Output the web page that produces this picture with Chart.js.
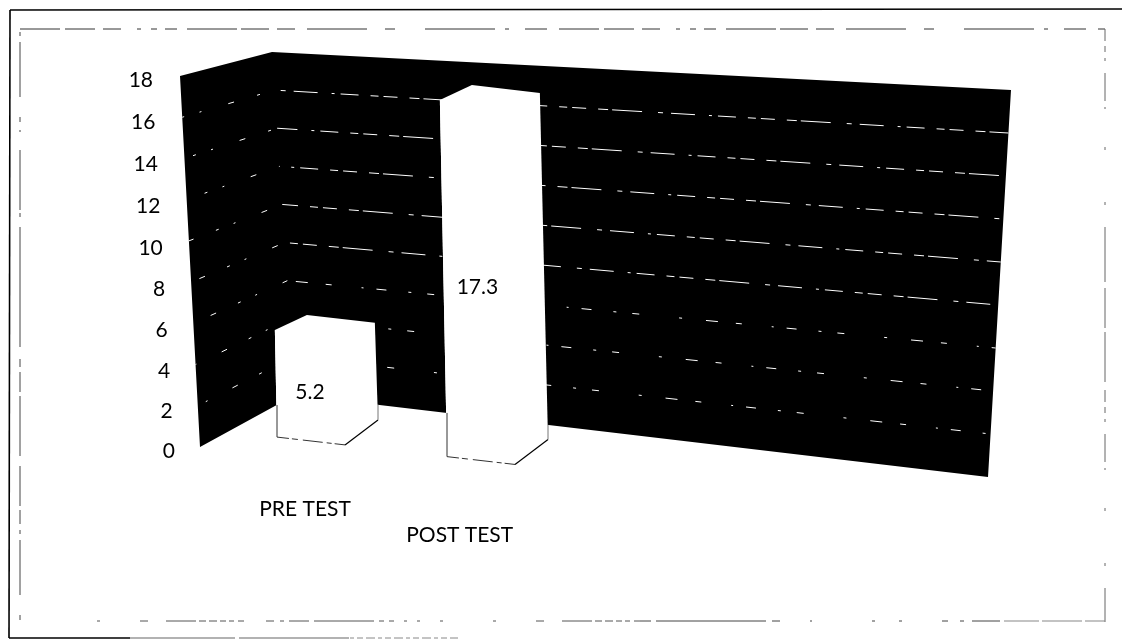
<!DOCTYPE html>
<html>
<head>
<meta charset="utf-8">
<style>html,body{margin:0;padding:0;background:#fff}canvas{display:block}</style>
<script src="https://cdn.jsdelivr.net/npm/chart.js@4/dist/chart.umd.min.js"></script>
</head>
<body>
<div style="width:1122px;height:639px"><canvas id="c" width="1122" height="639"></canvas></div>
<script>
const categories = ['PRE TEST', 'POST TEST', '', ''];
const testScores = [5.2, 17.3, null, null];
const axisMin = 0;
const axisMax = 18;
const axisStep = 2;

const FONT = 'Lato, Carlito, "Open Sans", sans-serif';
const FONT_SIZE = 21;
const SHEAR_Y = 0.115, SHEAR_X = 0.02, X0 = 398, Y0 = 451;
const T = (x, y) => [x + SHEAR_X * (y - Y0), y + SHEAR_Y * (x - X0)];
const wall = {A:[180,76], E:[200,447], TL:[272,52], BL:[295,395], C:[1011,90], D:[988,477]};
const DEPTH_TOP = [32, -15], DEPTH_BASE = [33, -25];
const lerp = (p, q, t) => [p[0] + (q[0]-p[0])*t, p[1] + (q[1]-p[1])*t];
const floorEdge = x => Math.max(447 - 0.545*(x-200), 395 + 0.118*(x-295));

function poly(ctx, pts, fill) {
  ctx.beginPath();
  pts.forEach((p, i) => i ? ctx.lineTo(p[0], p[1]) : ctx.moveTo(p[0], p[1]));
  ctx.closePath();
  ctx.fillStyle = fill;
  ctx.fill();
}
function seg(ctx, pts, dash, color, w, offset) {
  ctx.save();
  ctx.beginPath();
  pts.forEach((p, i) => i ? ctx.lineTo(p[0], p[1]) : ctx.moveTo(p[0], p[1]));
  ctx.setLineDash(dash);
  ctx.lineDashOffset = offset || 0;
  ctx.strokeStyle = color;
  ctx.lineWidth = w;
  ctx.stroke();
  ctx.restore();
}

const scene = {
  id: 'scene',
  beforeDraw(chart) {
    const ctx = chart.ctx;
    ctx.save();
    ctx.fillStyle = '#fff';
    ctx.fillRect(0, 0, chart.width, chart.height);
    // outer frame
    seg(ctx, [[10,10],[1122,9]], [], '#000', 1.6);
    seg(ctx, [[10,10],[9,638]], [], '#000', 1.6);
    seg(ctx, [[9,638],[130,638]], [], '#000', 1.5);
    seg(ctx, [[130,638],[350,638]], [105,4,110], '#666', 1.2);
    seg(ctx, [[350,638],[458,638]], [4,3,6,3,9,3], '#888', 1);
    // inner dashed frame
    seg(ctx, [[20,29],[1105,29]], [40,5,30,8,18,16,4,10,6,8,12,10,50,4,28,8,18,12,60,18,10,30,70,10,4,16,22,12], '#333', 1);
    seg(ctx, [[1105,29],[1105,622]], [12,5,6,6,3,12,28,6,2,38,3,52,3,22,55,6,40,4,50,8], '#666', 1);
    seg(ctx, [[1105,621],[1000,621]], [20,3,40,3,35], '#888', 1.2);
    seg(ctx, [[1000,621],[640,621]], [28,8,4,12,6,40,3,24,3,60,2,30,8,6,110,5,20,20], '#444', 1);
    seg(ctx, [[640,621],[80,621]], [6,4,5,3,6,3,8,3,7,3,30,18,8,40,3,50,3,20,3,10,3,10,5,5,5,5,60,5,20,5,4,6,8,22], '#555', 1);
    seg(ctx, [[20,620],[20,29]], [5,20,55,6,4,6,14,4,40,10,60,4,20,5,8,12,120,10,4,3,60,18,2,8], '#444', 1);
    ctx.restore();

    const y = chart.scales.y;
    y.getLabelItems(chart.chartArea).forEach((it, i) => {
      const v = y.ticks[i].value;
      it.options.translation[0] = 175 - 22 * v / axisMax;
      it.options.translation[1] += v * (axisMax - v) * 0.04;
    });
    const x = chart.scales.x;
    x.getLabelItems(chart.chartArea).forEach((it, i) => {
      const px = x.getPixelForTick(i);
      it.options.translation[0] = px - 6 - (px - 311) * 0.09;
      it.options.translation[1] = 497 + (px - 311) * 0.153;
    });
  },
  beforeDatasetsDraw(chart) {
    const ctx = chart.ctx, y = chart.scales.y;
    const {A, E, TL, BL, C, D} = wall;
    poly(ctx, [A, TL, C, D, BL, E], '#000');
    const dashesDense = [14,5,8,12,18,6,3,14,24,8,5,16,30,4,10,12];
    const dashesSparse = [7,16,3,22,10,13,2,30,6,18,12,24,3,40];
    const dashSide = [3,16,2,28,6,24];
    y.ticks.forEach(t => {
      const v = t.value;
      if (v <= axisMin || v >= axisMax) return;
      const f = v / axisMax;
      const a = lerp(E, A, f), b = lerp(BL, TL, f), c = lerp(D, C, f);
      seg(ctx, [a, b], dashSide, '#fff', 1, v * 5);
      seg(ctx, [c, b], v >= 8 ? dashesDense : dashesSparse, '#fff', 1, v * 9);
    });
    chart.getDatasetMeta(0).data.forEach((bar, i) => {
      if (testScores[i] == null) return;
      const l = bar.x - bar.width/2, r = bar.x + bar.width/2;
      const tl = T(l, bar.y), tr = T(r, bar.y), br = T(r, bar.base), bl = T(l, bar.base);
      const dt = p => [p[0] + DEPTH_TOP[0], p[1] + DEPTH_TOP[1]];
      const db = p => [p[0] + DEPTH_BASE[0], p[1] + DEPTH_BASE[1]];
      poly(ctx, [tl, dt(tl), dt(tr), db(br), br, bl], '#fff');
    });
    ctx.save();
    ctx.transform(1, SHEAR_Y, SHEAR_X, 1, -SHEAR_X * Y0, -SHEAR_Y * X0);
  },
  afterDatasetsDraw(chart) {
    const ctx = chart.ctx;
    ctx.restore();
    chart.getDatasetMeta(0).data.forEach((bar, i) => {
      if (testScores[i] == null) return;
      const l = bar.x - bar.width/2, r = bar.x + bar.width/2;
      const bl = T(l, bar.base), br = T(r, bar.base);
      const back = [br[0] + DEPTH_BASE[0], br[1] + DEPTH_BASE[1]];
      seg(ctx, [[bl[0], floorEdge(bl[0])], bl], [], '#333', 1);
      seg(ctx, [bl, br], [12,3,6,5,20,4,5,3], '#333', 1);
      seg(ctx, [br, back], [], '#000', 1.2);
      seg(ctx, [back, [back[0], floorEdge(back[0])]], [], '#777', 1);
      const c = T(bar.x, (bar.y + bar.base) / 2);
      ctx.save();
      ctx.fillStyle = '#000';
      ctx.font = FONT_SIZE + 'px ' + FONT;
      ctx.textAlign = 'center';
      ctx.textBaseline = 'middle';
      ctx.fillText(String(testScores[i]), c[0], c[1] + 5);
      ctx.restore();
    });
  }
};

new Chart(document.getElementById('c'), {
  type: 'bar',
  data: {
    labels: categories,
    datasets: [{
      data: testScores,
      backgroundColor: '#fff',
      borderWidth: 0,
      barPercentage: 0.4,
      categoryPercentage: 1
    }]
  },
  options: {
    responsive: false,
    animation: false,
    events: [],
    layout: {padding: {left: 110, right: 216, top: 80, bottom: 78}},
    plugins: {legend: {display: false}, tooltip: {enabled: false}},
    scales: {
      x: {
        grid: {display: false},
        border: {display: false},
        ticks: {color: '#000', font: {family: FONT, size: FONT_SIZE}, maxRotation: 0, autoSkip: false},
        afterFit(s) { s.height = 110; }
      },
      y: {
        min: axisMin,
        max: axisMax,
        grid: {display: false},
        border: {display: false},
        ticks: {stepSize: axisStep, color: '#000', font: {family: FONT, size: FONT_SIZE}},
        afterFit(s) { s.width = 116; }
      }
    }
  },
  plugins: [scene]
});
</script>
</body>
</html>
